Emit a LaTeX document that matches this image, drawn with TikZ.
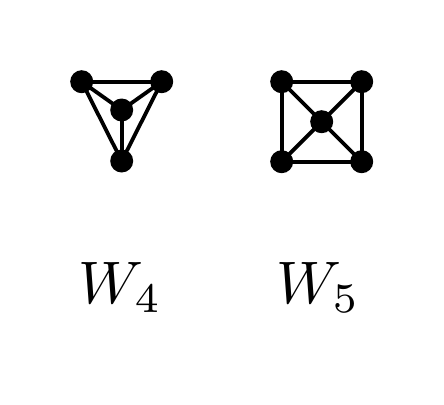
\documentclass[tikz,border=0pt]{standalone}
\usepackage{graphicx}
\begin{document}
\begin{tikzpicture}[x=1pt,y=-1pt,
  vtx/.style={circle,fill=black,inner sep=0pt,minimum size=23pt},
  edge/.style={line width=3.8pt,black},
  lbl/.style={anchor=base,inner sep=0pt,font=\normalsize}]
\useasboundingbox (0,0) rectangle (444,404);
% W4
\node[vtx] (a1) at (81.7,81.7) {};
\node[vtx] (a2) at (161.7,81.7) {};
\node[vtx] (a3) at (121.7,110) {};
\node[vtx] (a4) at (121.7,161) {};
\draw[edge] (a1.center) -- (a2.center);
\draw[edge] (a1.center) -- (a3.center);
\draw[edge] (a2.center) -- (a3.center);
\draw[edge] (a3.center) -- (a4.center);
\draw[edge] (a1.center) -- (a4.center);
\draw[edge] (a2.center) -- (a4.center);
% W5
\node[vtx] (b1) at (281.7,81.7) {};
\node[vtx] (b2) at (361.7,81.7) {};
\node[vtx] (b3) at (281.7,161.7) {};
\node[vtx] (b4) at (361.7,161.7) {};
\node[vtx] (b5) at (321.7,121.7) {};
\draw[edge] (b1.center) -- (b2.center) -- (b4.center) -- (b3.center) -- cycle;
\draw[edge] (b1.center) -- (b4.center);
\draw[edge] (b2.center) -- (b3.center);
\node[lbl] (l4) at (120,303) {\scalebox{6}{$W_4$}};
\node[lbl] (l5) at (318,303) {\scalebox{6}{$W_5$}};
\end{tikzpicture}
\end{document}
